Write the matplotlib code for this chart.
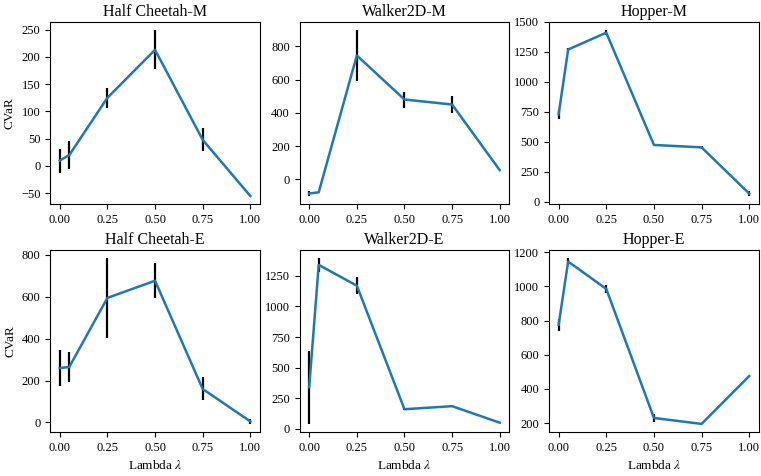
import matplotlib
matplotlib.use('Agg')
import matplotlib.pyplot as plt

plt.rcParams['font.family'] = ['Liberation Serif', 'DejaVu Serif']
plt.rcParams['mathtext.fontset'] = 'stix'

# lambda values shared by all panels
lambdas = [0.0, 0.05, 0.25, 0.5, 0.75, 1.0]

titles = ['Half Cheetah-M', 'Walker2D-M', 'Hopper-M',
          'Half Cheetah-E', 'Walker2D-E', 'Hopper-E']

# CVaR means
cheetah_m = [10, 20, 125, 213, 48, -55]
walker_m = [-85, -78, 745, 480, 450, 55]
hopper_m = [730, 1270, 1410, 475, 455, 70]
cheetah_e = [260, 265, 595, 677, 160, 5]
walker_e = [340, 1340, 1170, 160, 185, 50]
hopper_e = [775, 1145, 985, 230, 195, 475]

# half-widths of the error bars
cheetah_m_err = [22, 26, 18, 36, 21, 0]
walker_m_err = [15, 0, 152, 48, 52, 0]
hopper_m_err = [35, 15, 20, 0, 15, 20]
cheetah_e_err = [85, 73, 190, 83, 55, 12]
walker_e_err = [300, 55, 72, 10, 0, 0]
hopper_e_err = [35, 20, 25, 25, 0, 0]

means = [cheetah_m, walker_m, hopper_m, cheetah_e, walker_e, hopper_e]
errs = [cheetah_m_err, walker_m_err, hopper_m_err,
        cheetah_e_err, walker_e_err, hopper_e_err]

fig, axes = plt.subplots(2, 3, figsize=(7.61, 4.76), dpi=100)
fig.subplots_adjust(left=0.066, right=0.997, top=0.954, bottom=0.092,
                    wspace=0.19, hspace=0.25)

for i, ax in enumerate(axes.flat):
    ax.vlines(lambdas, [m - e for m, e in zip(means[i], errs[i])],
              [m + e for m, e in zip(means[i], errs[i])],
              color='black', linewidth=1.6, zorder=2)
    ax.plot(lambdas, means[i], color='#1f77b4', linewidth=1.8, zorder=3)
    ax.set_title(titles[i], fontsize=11.5, pad=4)
    ax.set_xticks([0.0, 0.25, 0.5, 0.75, 1.0])
    ax.tick_params(labelsize=9)
    if i % 3 == 0:
        ax.set_ylabel('CVaR', fontsize=9.5)
    if i >= 3:
        ax.set_xlabel(r'Lambda $\lambda$', fontsize=9.5)

axes[0, 0].set_yticks([-50, 0, 50, 100, 150, 200, 250])
axes[0, 1].set_yticks([0, 200, 400, 600, 800])
axes[0, 2].set_yticks([0, 250, 500, 750, 1000, 1250, 1500])
axes[1, 0].set_yticks([0, 200, 400, 600, 800])
axes[1, 1].set_yticks([0, 250, 500, 750, 1000, 1250])
axes[1, 2].set_yticks([200, 400, 600, 800, 1000, 1200])

fig.savefig('out.png', dpi=100)
